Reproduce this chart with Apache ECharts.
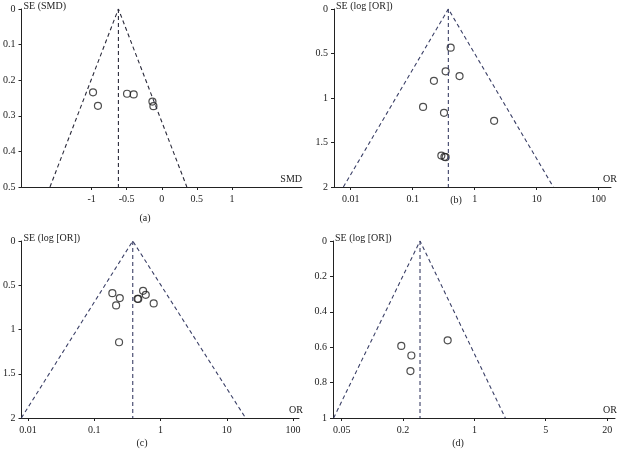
<!DOCTYPE html>
<html>
<head>
<meta charset="utf-8">
<script src="https://cdn.jsdelivr.net/npm/echarts@6/dist/echarts.min.js"></script>
<style>
  html, body { margin: 0; padding: 0; background: #fff; }
  #chart { width: 618px; height: 455px; }
</style>
</head>
<body>
<div id="chart"></div>
<script>
// panel (a): SMD vs SE(SMD)
const smdA = [-0.98, -0.91, -0.495, -0.40, -0.133, -0.119];
const seA = [0.234, 0.272, 0.238, 0.240, 0.260, 0.273];
const funnelXA = [-1.594, -0.618, 0.358];
const funnelYA = [0.5, 0, 0.5];
const pooledA = -0.618;
const ticksA = [-1, -0.5, 0, 0.5, 1];

// panel (b): OR vs SE(log[OR])
const orB = [0.41, 0.34, 0.57, 0.22, 0.147, 0.32, 2.06, 0.29, 0.325, 0.34];
const seB = [0.435, 0.70, 0.754, 0.807, 1.10, 1.167, 1.257, 1.647, 1.66, 1.665];
const funnelXB = [0.0076, 0.376, 18.6];
const funnelYB = [2, 0, 2];
const pooledB = 0.376;

// panel (c)
const orC = [0.187, 0.242, 0.213, 0.544, 0.597, 0.449, 0.46, 0.787, 0.236];
const seC = [0.589, 0.645, 0.728, 0.563, 0.608, 0.653, 0.655, 0.705, 1.144];
const funnelXC = [0.0079, 0.38, 19.2];
const funnelYC = [2, 0, 2];
const pooledC = 0.38;

// panel (d)
const orD = [0.192, 0.241, 0.236, 0.547];
const seD = [0.593, 0.647, 0.735, 0.561];
const funnelXD = [0.0417, 0.293, 2.01];
const funnelYD = [1, 0, 1];
const pooledD = 0.293;

const ticksOR = [0.01, 0.1, 1, 10, 100];
const ticksD = [0.05, 0.2, 1, 5, 20];

const font = 'Liberation Serif';
const ink = '#222';
const log = v => Math.log10(v);

function fmtOR(v) {
  const r = Math.pow(10, v);
  return String(parseFloat(r.toPrecision(2)));
}

function xAxisFor(i, min, max, ticks, name, gap, isLog) {
  const vals = isLog ? ticks.map(log) : ticks;
  return {
    gridIndex: i, type: 'value', min: min, max: max,
    name: name, nameLocation: 'end', nameGap: gap,
    nameTextStyle: { fontFamily: font, fontSize: 10, color: ink, align: 'right', verticalAlign: 'bottom', padding: [0, 0, 3, 0] },
    axisLine: { onZero: false, lineStyle: { color: ink, width: 1 } },
    axisTick: { show: true, length: 3, customValues: vals, lineStyle: { color: ink } },
    axisLabel: {
      customValues: vals, fontFamily: font, fontSize: 10, color: ink, margin: 7,
      formatter: v => isLog ? fmtOR(v) : String(v)
    },
    splitLine: { show: false }
  };
}

function yAxisFor(i, max, interval, name) {
  return {
    gridIndex: i, type: 'value', inverse: true, min: 0, max: max, interval: interval,
    name: name, nameLocation: 'start', nameGap: 3,
    nameTextStyle: { fontFamily: font, fontSize: 10, color: ink, align: 'left', verticalAlign: 'middle', padding: [0, 0, 0, 2] },
    axisLine: { show: true, onZero: false, lineStyle: { color: ink, width: 1 } },
    axisTick: { show: true, length: 3, lineStyle: { color: ink } },
    axisLabel: { fontFamily: font, fontSize: 10, color: ink, margin: 6 },
    splitLine: { show: false }
  };
}

function panelSeries(i, xs, ys, fx, fy, pooled, maxSe, dashColor, isLog) {
  const tx = isLog ? log : (v => v);
  return [
    {
      type: 'line', xAxisIndex: i, yAxisIndex: i, symbol: 'none', silent: true,
      data: fx.map((x, k) => [tx(x), fy[k]]),
      lineStyle: { color: dashColor, width: 1.1, type: [4, 3] }
    },
    {
      type: 'line', xAxisIndex: i, yAxisIndex: i, symbol: 'none', silent: true,
      data: [[tx(pooled), 0], [tx(pooled), maxSe]],
      lineStyle: { color: dashColor, width: 1.1, type: [4, 3] }
    },
    {
      type: 'scatter', xAxisIndex: i, yAxisIndex: i, symbol: 'circle', symbolSize: 7,
      data: xs.map((x, k) => [tx(x), ys[k]]),
      itemStyle: { color: 'rgba(0,0,0,0)', borderColor: ink, borderWidth: 1.2 }
    }
  ];
}

const chart = echarts.init(document.getElementById('chart'));
const option = {
  animation: false,
  backgroundColor: '#fff',
  grid: [
    { left: 17, top: 9, width: 285, height: 178 },
    { left: 334, top: 9, width: 277, height: 178 },
    { left: 18, top: 241, width: 281, height: 177 },
    { left: 333, top: 241, width: 282, height: 177 }
  ],
  xAxis: [
    xAxisFor(0, -2, 2, ticksA, 'SMD', 0, false),
    xAxisFor(1, -2.27, 2.2, ticksOR, 'OR', 6, true),
    xAxisFor(2, -2.1, 2.09, ticksOR, 'OR', 4, true),
    xAxisFor(3, -1.386, 1.378, ticksD, 'OR', 2, true)
  ],
  yAxis: [
    yAxisFor(0, 0.5, 0.1, 'SE (SMD)'),
    yAxisFor(1, 2, 0.5, 'SE (log [OR])'),
    yAxisFor(2, 2, 0.5, 'SE (log [OR])'),
    yAxisFor(3, 1, 0.2, 'SE (log [OR])')
  ],
  series: [].concat(
    panelSeries(0, smdA, seA, funnelXA, funnelYA, pooledA, 0.5, '#2a2a3a', false),
    panelSeries(1, orB, seB, funnelXB, funnelYB, pooledB, 2, '#3a3f66', true),
    panelSeries(2, orC, seC, funnelXC, funnelYC, pooledC, 2, '#3a3f66', true),
    panelSeries(3, orD, seD, funnelXD, funnelYD, pooledD, 1, '#3a3f66', true)
  ),
  graphic: [
    { type: 'text', x: 145, y: 218, style: { text: '(a)', font: '10px "Liberation Serif"', fill: ink, textAlign: 'center', textVerticalAlign: 'middle' } },
    { type: 'text', x: 456, y: 200, style: { text: '(b)', font: '10px "Liberation Serif"', fill: ink, textAlign: 'center', textVerticalAlign: 'middle' } },
    { type: 'text', x: 142, y: 443, style: { text: '(c)', font: '10px "Liberation Serif"', fill: ink, textAlign: 'center', textVerticalAlign: 'middle' } },
    { type: 'text', x: 458, y: 443, style: { text: '(d)', font: '10px "Liberation Serif"', fill: ink, textAlign: 'center', textVerticalAlign: 'middle' } }
  ]
};
chart.setOption(option);
</script>
</body>
</html>
